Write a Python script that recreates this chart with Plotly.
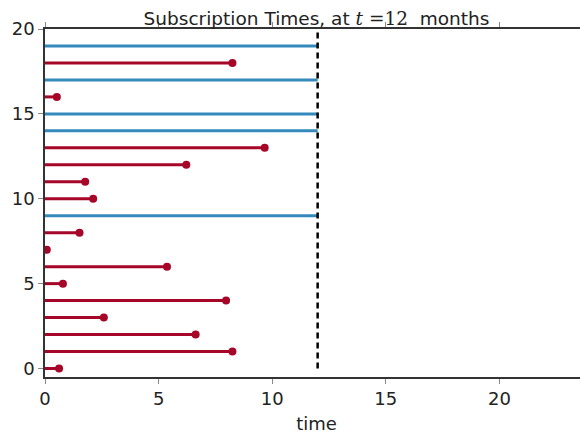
import plotly.graph_objects as go

# subscription length per subject (months), and whether they cancelled before t=12
subject = list(range(20))
lifetime = [0.62, 8.25, 6.63, 2.59, 7.97, 0.79, 5.37, 0.08, 1.52, 12,
            2.12, 1.77, 6.22, 9.67, 12, 12, 0.52, 12, 8.25, 12]
cancelled = [True, True, True, True, True, True, True, True, True, False,
             True, True, True, True, False, False, True, False, True, False]

current_time = 12
red = '#A60628'
blue = '#348ABD'

fig = go.Figure()

for s, t, c in zip(subject, lifetime, cancelled):
    fig.add_trace(go.Scatter(x=[0, t], y=[s, s], mode='lines',
                             line=dict(color=red if c else blue, width=3),
                             showlegend=False, hoverinfo='skip'))

# dots at the end of cancelled subscriptions
fig.add_trace(go.Scatter(x=[t for t, c in zip(lifetime, cancelled) if c],
                         y=[s for s, c in zip(subject, cancelled) if c],
                         mode='markers', marker=dict(color=red, size=8),
                         showlegend=False))

fig.add_trace(go.Scatter(x=[current_time, current_time], y=[0, 20], mode='lines',
                         line=dict(color='black', width=2.5, dash='6px,4px'),
                         showlegend=False))

axis_style = dict(showline=True, linecolor='#333333', linewidth=1.5, mirror='ticks',
                  ticks='outside', ticklen=5, tickcolor='#888888', showgrid=False,
                  zeroline=False, automargin=False,
                  tickfont=dict(size=18, color='#222222'))

# page body adds an 8px margin, so the figure is a bit smaller than the window
fig.update_layout(
    title=dict(text='Subscription Times, at <span style="font-family:\'DejaVu Serif\'"><i>t</i> =12</span>  months',
               x=0.5, xref='paper', y=1 - 11 / 426, yref='container', yanchor='middle',
               font=dict(size=18.5, color='#222222')),
    font=dict(family='DejaVu Sans'),
    xaxis=dict(range=[0, 23.9], tickvals=[0, 5, 10, 15, 20],
               title=dict(text='time', font=dict(size=18, color='#222222'), standoff=17),
               **axis_style),
    yaxis=dict(range=[-0.5, 20], tickvals=[0, 5, 10, 15, 20], **axis_style),
    plot_bgcolor='white',
    paper_bgcolor='white',
    width=580,
    height=426,
    margin=dict(l=37, r=0, t=21, b=57)
)

fig.write_html("out.html")
